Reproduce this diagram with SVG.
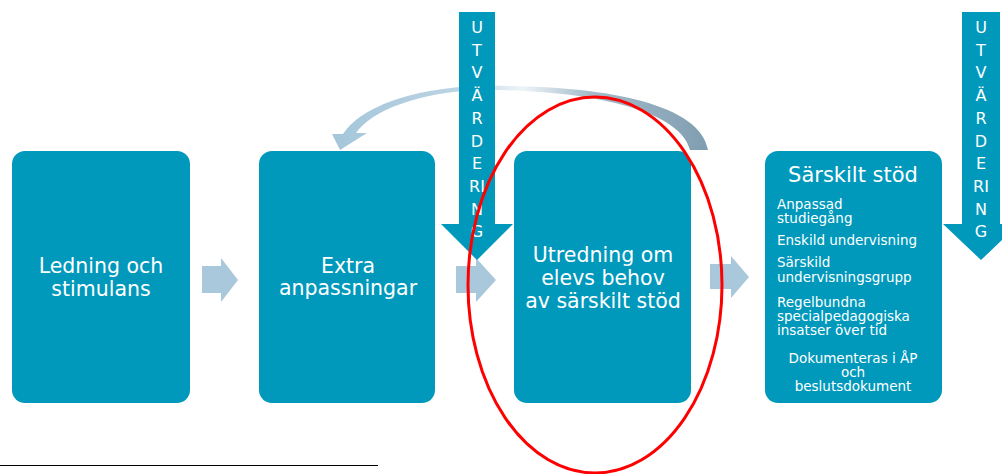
<svg xmlns="http://www.w3.org/2000/svg" width="1002" height="474" viewBox="0 0 1002 474">
<style>
.box{fill:#0099bc}
.t{fill:#fff;font-family:"DejaVu Sans",sans-serif;text-anchor:middle}
.big{font-size:20.5px}
.sm{font-size:13.5px}
.lt{fill:#fff;font-family:"DejaVu Sans",sans-serif;font-size:13.5px}
.blk{fill:#a9c8db}
.v{fill:#fff;font-family:"DejaVu Sans",sans-serif;font-size:16px;text-anchor:middle}
</style>
<defs>
<linearGradient id="cg" x1="335" y1="0" x2="710" y2="0" gradientUnits="userSpaceOnUse">
<stop offset="0" stop-color="#a5c6da"/>
<stop offset="0.35" stop-color="#bcd5e4"/>
<stop offset="0.5" stop-color="#eef4f8"/>
<stop offset="0.68" stop-color="#a4bccb"/>
<stop offset="1" stop-color="#7f9db0"/>
</linearGradient>
</defs>
<rect width="1002" height="474" fill="#fff"/>
<g id="connectors">
<path id="cycle" d="M 708 150 C 700 100, 590 84, 480 86 C 410 88, 360 108, 343 134 L 332 134 L 340 150 L 367 133 L 356 133 C 372 110, 420 92, 480 90 C 580 89, 680 108, 690 150 Z" fill="url(#cg)"/>
<path class="blk" d="M202 266 H221 V258 L238 280 L221 302 V293 H202 Z"/>
<path class="blk" d="M456 266 H476 V258 L496 280 L476 302 V293 H456 Z"/>
<path class="blk" d="M710 264 H731 V256 L749 277 L731 298 V289 H710 Z"/>
</g>
<g id="utv1">
<path class="box" d="M459 12 H495 V224 H513 L477 260 L441 224 H459 Z"/>
<text class="v" x="477" y="33">U</text>
<text class="v" x="477" y="56">T</text>
<text class="v" x="477" y="78">V</text>
<text class="v" x="477" y="101">Ä</text>
<text class="v" x="477" y="124">R</text>
<text class="v" x="477" y="147">D</text>
<text class="v" x="477" y="169">E</text>
<text class="v" x="477" y="192">RI</text>
<text class="v" x="477" y="215">N</text>
<text class="v" x="477" y="237">G</text>
</g>
<g id="utv2">
<path class="box" d="M962 12 H1000 V224 H1019 L981 260 L943 224 H962 Z"/>
<text class="v" x="981" y="33">U</text>
<text class="v" x="981" y="56">T</text>
<text class="v" x="981" y="78">V</text>
<text class="v" x="981" y="101">Ä</text>
<text class="v" x="981" y="124">R</text>
<text class="v" x="981" y="147">D</text>
<text class="v" x="981" y="169">E</text>
<text class="v" x="981" y="192">RI</text>
<text class="v" x="981" y="215">N</text>
<text class="v" x="981" y="237">G</text>
</g>
<g id="n1">
<rect class="box" x="12" y="151" width="178" height="252" rx="13"/>
<text class="t big" x="101" y="273">Ledning och</text>
<text class="t big" x="101" y="296">stimulans</text>
</g>
<g id="n2">
<rect class="box" x="259" y="151" width="176" height="252" rx="13"/>
<text class="t big" x="348" y="273">Extra</text>
<text class="t big" x="348" y="295">anpassningar</text>
</g>
<g id="n3">
<rect class="box" x="514" y="151" width="177" height="252" rx="13"/>
<text class="t big" x="603" y="262">Utredning om</text>
<text class="t big" x="603" y="285">elevs behov</text>
<text class="t big" x="603" y="308">av särskilt stöd</text>
</g>
<g id="n4">
<rect class="box" x="765" y="151" width="177" height="252" rx="13"/>
<text class="t" x="853" y="182" font-size="21">Särskilt stöd</text>
<text class="lt" x="777" y="209">Anpassad</text>
<text class="lt" x="777" y="223">studiegång</text>
<text class="lt" x="777" y="245">Enskild undervisning</text>
<text class="lt" x="777" y="267">Särskild</text>
<text class="lt" x="777" y="282">undervisningsgrupp</text>
<text class="lt" x="777" y="307">Regelbundna</text>
<text class="lt" x="777" y="321">specialpedagogiska</text>
<text class="lt" x="777" y="335">insatser över tid</text>
<text class="t sm" x="853" y="363">Dokumenteras i ÅP</text>
<text class="t sm" x="853" y="377">och</text>
<text class="t sm" x="853" y="391">beslutsdokument</text>
</g>
<g id="highlight">
<ellipse cx="595" cy="285" rx="127" ry="188" fill="none" stroke="#ff0000" stroke-width="3"/>
</g>
<line x1="0" y1="465.5" x2="378" y2="465.5" stroke="#000" stroke-width="1"/>
</svg>
